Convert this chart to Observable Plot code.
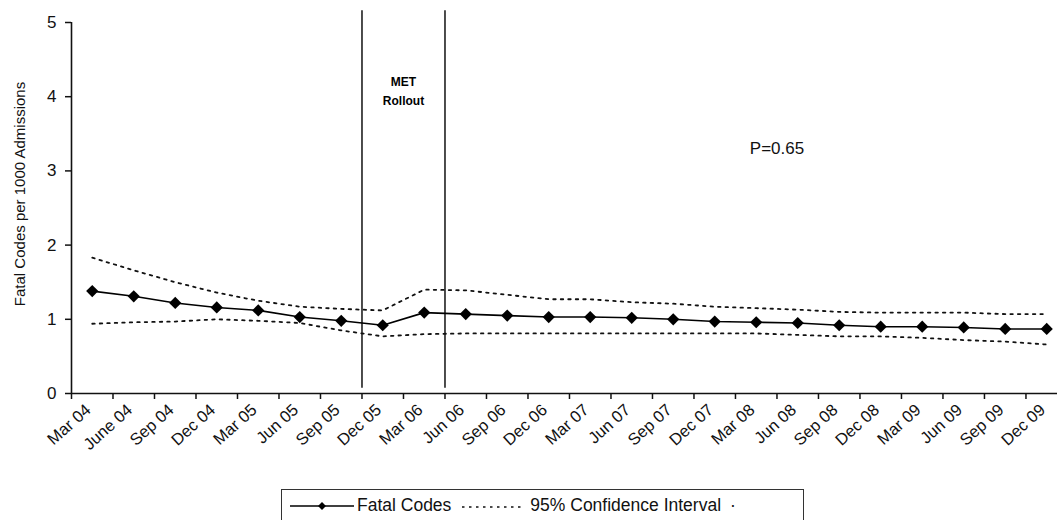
<!DOCTYPE html>
<html>
<head>
<meta charset="utf-8">
<script src="https://cdn.jsdelivr.net/npm/d3@7"></script>
<script src="https://cdn.jsdelivr.net/npm/@observablehq/plot@0.6"></script>
<style>
  html, body { margin: 0; padding: 0; background: #fff; overflow: hidden; }
  #chart svg { display: block; }
  #legend {
    position: absolute; top: 489px; left: 281px; width: 523px; height: 40px;
    border: 1.6px solid #333; box-sizing: border-box;
    font-family: "Liberation Sans", Arial, sans-serif; font-size: 17.5px; color: #111;
    display: flex; align-items: flex-start; padding: 5px 0 0 7px;
  }
  #legend .item { display: flex; align-items: center; }
  #legend svg { display: block; }
</style>
</head>
<body>
<div id="chart"></div>
<div id="legend">
  <span class="item"><svg width="66" height="18" id="lg1"></svg><span style="margin-left:2px">Fatal Codes</span></span>
  <span class="item" style="margin-left:10px"><svg width="64" height="18" id="lg2"></svg><span style="margin-left:5px">95% Confidence Interval</span><span style="margin-left:9px">·</span></span>
</div>
<script>
// ---- data ----
const quarters = ["Mar 04","June 04","Sep 04","Dec 04","Mar 05","Jun 05","Sep 05","Dec 05",
  "Mar 06","Jun 06","Sep 06","Dec 06","Mar 07","Jun 07","Sep 07","Dec 07",
  "Mar 08","Jun 08","Sep 08","Dec 08","Mar 09","Jun 09","Sep 09","Dec 09"];
const fatalCodes = [1.38,1.31,1.22,1.16,1.12,1.03,0.98,0.92,1.09,1.07,1.05,1.03,1.03,1.02,1.00,0.97,0.96,0.95,0.92,0.90,0.90,0.89,0.87,0.87];
const ciUpper = [1.83,1.66,1.50,1.36,1.25,1.17,1.14,1.12,1.40,1.39,1.33,1.27,1.27,1.23,1.21,1.17,1.15,1.13,1.10,1.09,1.09,1.09,1.07,1.07];
const ciLower = [0.94,0.96,0.97,1.00,0.98,0.95,0.85,0.77,0.80,0.81,0.81,0.81,0.81,0.81,0.81,0.81,0.81,0.79,0.77,0.77,0.75,0.72,0.70,0.66];
const yTicks = [0,1,2,3,4,5];
// MET rollout period: between "Sep 05"/"Dec 05" and "Mar 06"/"Jun 06"
const rolloutAfter = ["Sep 05", "Mar 06"];
const rolloutLabel = "MET\nRollout";
const pLabel = "P=0.65";
const yTitle = "Fatal Codes per 1000 Admissions";

// ---- derived ----
const rows = quarters.map((q, i) => ({i, q, v: fatalCodes[i], lo: ciLower[i], hi: ciUpper[i]}));
const idx = quarters.map((_, i) => i);
const rolloutBounds = rolloutAfter.map(q => quarters.indexOf(q) + 0.5);
const xDomain = [-0.5, 23.26];
const boundaries = d3.range(-0.5, quarters.length, 1).filter(b => b <= xDomain[1]);

const font = "'Liberation Sans', Arial, sans-serif";

const chart = Plot.plot({
  width: 1057, height: 489,
  marginLeft: 71, marginRight: 0, marginTop: 22, marginBottom: 96,
  x: {type: "linear", domain: xDomain},
  y: {domain: [0, 5]},
  style: {fontFamily: font, color: "#111", background: "#fff", overflow: "visible"},
  marks: [
    Plot.axisY({ticks: yTicks, tickFormat: d3.format("d"), tickSize: 6, tickPadding: 9, fontSize: 17, label: null, strokeWidth: 1.5}),
    Plot.text([yTitle], {frameAnchor: "left", textAnchor: "middle", dx: -51, dy: -14, rotate: -90, fontSize: 15, fill: "#111"}),
    Plot.axisX({ticks: idx, tickFormat: i => quarters[i], tickRotate: -42, tickSize: 0, tickPadding: 11, dx: -4, dy: 3, fontSize: 16.5, label: null}),
    Plot.axisX({ticks: boundaries, tickFormat: () => "", tickSize: 6, strokeWidth: 1.5, label: null}),
    Plot.ruleY([0], {strokeWidth: 1.6, stroke: "#111"}),
    Plot.ruleX([xDomain[0]], {y1: 0, y2: 5, strokeWidth: 1.6, stroke: "#111"}),
    Plot.ruleX(rolloutBounds, {y1: 0.07, y2: 5.16, strokeWidth: 1.5, stroke: "#111"}),
    Plot.text([rolloutLabel], {x: d3.mean(rolloutBounds), frameAnchor: "top", dy: 50, fontSize: 12, fontWeight: "bold", lineHeight: 1.6, fill: "#000"}),
    Plot.text([pLabel], {x: 16.5, y: 3.3, fontSize: 17, fill: "#111"}),
    Plot.line(rows, {x: "i", y: "hi", stroke: "#111", strokeWidth: 1.8, strokeDasharray: "2.5,5"}),
    Plot.line(rows, {x: "i", y: "lo", stroke: "#111", strokeWidth: 1.8, strokeDasharray: "2.5,5"}),
    Plot.line(rows, {x: "i", y: "v", stroke: "#000", strokeWidth: 1.6}),
    Plot.dot(rows, {x: "i", y: "v", symbol: "diamond2", r: 5.5, fill: "#000", stroke: "none"})
  ]
});
document.getElementById("chart").appendChild(chart);

// legend samples
const lg1 = d3.select("#lg1");
lg1.append("line").attr("x1", 1).attr("x2", 65).attr("y1", 9).attr("y2", 9).attr("stroke", "#000").attr("stroke-width", 1.6);
lg1.append("path").attr("d", d3.symbol(d3.symbolSquare2 || d3.symbolSquare, 40)()).attr("transform", "translate(33,9) rotate(45)").attr("fill", "#000");
const lg2 = d3.select("#lg2");
lg2.append("line").attr("x1", 1).attr("x2", 63).attr("y1", 10).attr("y2", 10).attr("stroke", "#111").attr("stroke-width", 1.4).attr("stroke-dasharray", "2.5,4.5");
</script>
</body>
</html>
